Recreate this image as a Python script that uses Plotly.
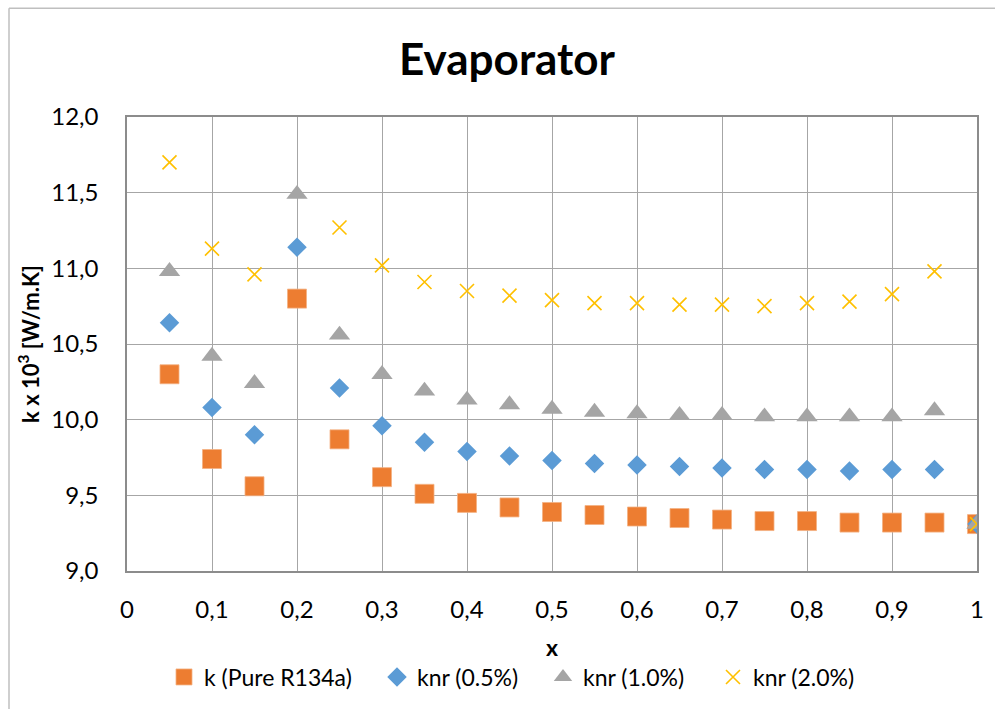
import plotly.graph_objects as go

# Vapour quality along the evaporator
x_vals = [0.05, 0.10, 0.15, 0.20, 0.25, 0.30, 0.35, 0.40, 0.45, 0.50,
          0.55, 0.60, 0.65, 0.70, 0.75, 0.80, 0.85, 0.90, 0.95, 1.00]

# Thermal conductivity k x 10^3 [W/m.K]
k_pure = [10.30, 9.74, 9.56, 10.80, 9.87, 9.62, 9.51, 9.45, 9.42, 9.39,
          9.37, 9.36, 9.35, 9.34, 9.33, 9.33, 9.32, 9.32, 9.32, 9.31]
knr_05 = [10.64, 10.08, 9.90, 11.14, 10.21, 9.96, 9.85, 9.79, 9.76, 9.73,
          9.71, 9.70, 9.69, 9.68, 9.67, 9.67, 9.66, 9.67, 9.67, 9.31]
knr_10 = [10.98, 10.42, 10.24, 11.49, 10.56, 10.30, 10.19, 10.13, 10.10, 10.07,
          10.05, 10.04, 10.03, 10.03, 10.02, 10.02, 10.02, 10.02, 10.06, 9.31]
knr_20 = [11.70, 11.13, 10.96, None, 11.27, 11.02, 10.91, 10.85, 10.82, 10.79,
          10.77, 10.77, 10.76, 10.76, 10.75, 10.77, 10.78, 10.83, 10.98, 9.31]

x_ticks = [0, 0.1, 0.2, 0.3, 0.4, 0.5, 0.6, 0.7, 0.8, 0.9, 1.0]
x_tick_text = ["0", "0,1", "0,2", "0,3", "0,4", "0,5", "0,6", "0,7", "0,8", "0,9", "1"]
y_ticks = [9.0, 9.5, 10.0, 10.5, 11.0, 11.5, 12.0]
y_tick_text = ["9,0", "9,5", "10,0", "10,5", "11,0", "11,5", "12,0"]

FONT = "Lato, Carlito, 'Liberation Sans', sans-serif"

fig = go.Figure()
fig.add_trace(go.Scatter(
    x=x_vals, y=k_pure, mode="markers", name="k (Pure R134a)", legend="legend",
    marker=dict(symbol="square", size=19, color="#ED7D31",
                line=dict(width=0.8, color="#F4B183"))))
fig.add_trace(go.Scatter(
    x=x_vals, y=knr_05, mode="markers", name="knr (0.5%)", legend="legend2",
    marker=dict(symbol="diamond", size=15, color="#5B9BD5", line=dict(width=0))))
fig.add_trace(go.Scatter(
    x=x_vals, y=knr_10, mode="markers", name="knr (1.0%)", legend="legend3",
    marker=dict(symbol="triangle-up", size=18.5, color="#A5A5A5", line=dict(width=0))))
fig.add_trace(go.Scatter(
    x=x_vals, y=knr_20, mode="markers", name="knr (2.0%)", legend="legend4",
    marker=dict(symbol="x-thin-open", size=14, color="#FFC000",
                line=dict(width=1.6, color="#FFC000"))))

grid = "#A6A6A6"
fig.update_xaxes(
    range=[0, 1], tickvals=x_ticks, ticktext=x_tick_text,
    showgrid=True, gridcolor=grid, gridwidth=1,
    showline=True, linecolor="#8C8C8C", linewidth=1.5, mirror=True,
    zeroline=False, ticks="", ticklabelstandoff=16,
    tickfont=dict(family=FONT, size=24, color="#000"),
    title=dict(text="<b>x</b>", font=dict(family=FONT, size=23, color="#000"),
               standoff=18))
fig.update_yaxes(
    range=[9, 12], tickvals=y_ticks, ticktext=y_tick_text,
    showgrid=True, gridcolor=grid, gridwidth=1,
    showline=True, linecolor="#8C8C8C", linewidth=1.5, mirror=True,
    zeroline=False, ticks="", ticklabelstandoff=22,
    tickfont=dict(family=FONT, size=24, color="#000"),
    title=dict(text="<b>k x 10<sup>3</sup> [W/m.K]</b>",
               font=dict(family=FONT, size=22, color="#000"), standoff=6))

W, H = 995, 709
L, R, T, B = 127, 18, 117, 137
pw, ph = W - L - R, H - T - B

# chart-area frame (top and left edges)
fx0 = (9 - L) / pw
fy1 = (H - B - 8) / ph
fig.add_shape(type="line", xref="paper", yref="paper",
              x0=fx0, x1=(W + 20 - L) / pw, y0=fy1, y1=fy1,
              line=dict(color="#BFBFBF", width=1.5))
fig.add_shape(type="line", xref="paper", yref="paper",
              x0=fx0, x1=fx0, y0=fy1, y1=-(B + 20) / ph,
              line=dict(color="#BFBFBF", width=1.5))

# one legend box per series, laid out along the bottom
legend_y = (H - B - 677) / ph
symbol_px = [184, 397, 563, 733]
legend_style = dict(orientation="h", xanchor="left", y=legend_y, yanchor="middle",
                    font=dict(family=FONT, size=23, color="#000"),
                    itemwidth=30, bgcolor="rgba(0,0,0,0)")
legends = {}
for i, px in enumerate(symbol_px):
    key = "legend" if i == 0 else f"legend{i + 1}"
    legends[key] = dict(legend_style, x=(px - 20 - L) / pw)

fig.update_layout(
    width=W, height=H,
    margin=dict(l=L, r=R, t=T, b=B),
    paper_bgcolor="white", plot_bgcolor="white",
    font=dict(family=FONT, color="#000"),
    title=dict(text="<b>Evaporator</b>", x=507 / W, xanchor="center",
               y=1 - 60 / H, yanchor="middle",
               font=dict(family=FONT, size=44, color="#000")),
    showlegend=True,
    **legends,
)

fig.write_html("out.html")
